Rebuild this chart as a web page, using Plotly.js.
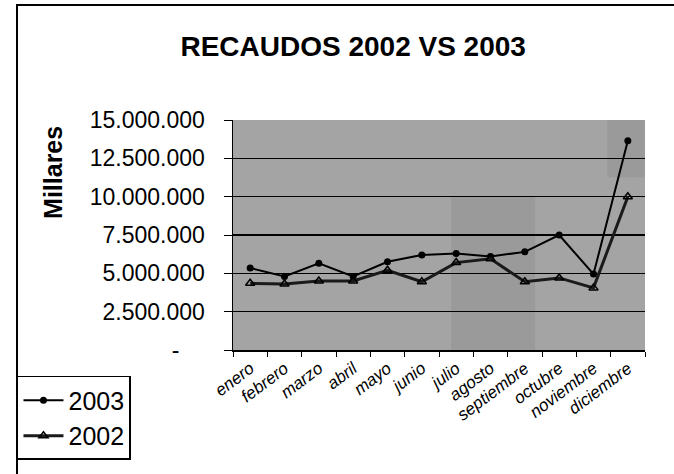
<!DOCTYPE html>
<html>
<head>
<meta charset="utf-8">
<script src="https://cdn.plot.ly/plotly-3.0.1.min.js"></script>
<style>
  html, body { margin: 0; padding: 0; background: #fff; }
  #wrap { position: relative; width: 674px; height: 474px; overflow: hidden; }
  #chart { width: 674px; height: 474px; }
  #frame { position: absolute; left: 16px; top: 4px; width: 700px; height: 500px;
           border-left: 2px solid #000; border-top: 2px solid #000; pointer-events: none; }
</style>
</head>
<body>
<div id="wrap">
  <div id="chart"></div>
  <div id="frame"></div>
</div>
<script>
const months = ['enero','febrero','marzo','abril','mayo','junio','julio','agosto','septiembre','octubre','noviembre','diciembre'];
const recaudos2003 = [5350000, 4800000, 5650000, 4800000, 5750000, 6200000, 6300000, 6100000, 6400000, 7500000, 4950000, 13650000];
const recaudos2002 = [4350000, 4300000, 4500000, 4500000, 5200000, 4450000, 5700000, 5950000, 4450000, 4700000, 4050000, 10000000];
const yTickVals = [0, 2500000, 5000000, 7500000, 10000000, 12500000, 15000000];
const yTickText = ['-\u00a0\u00a0\u00a0\u00a0', '2.500.000', '5.000.000', '7.500.000', '10.000.000', '12.500.000', '15.000.000'];

const traces = [
  {
    x: months, y: recaudos2003, name: '2003', type: 'scatter', mode: 'lines+markers',
    line: { color: '#000', width: 2 },
    marker: { symbol: 'circle', size: 7, color: '#000' }
  },
  {
    x: months, y: recaudos2002, name: '2002', type: 'scatter', mode: 'lines+markers',
    line: { color: '#1a1a1a', width: 3 },
    marker: { symbol: 'triangle-up-open', size: 8, color: '#000', line: { width: 1.5 } }
  }
];

const layout = {
  width: 674, height: 474,
  margin: { l: 233, r: 29, t: 120, b: 124 },
  paper_bgcolor: '#ffffff',
  plot_bgcolor: '#a4a4a4',
  font: { family: 'Liberation Sans, Arial, sans-serif', color: '#000' },
  title: {
    text: '<b>RECAUDOS 2002 VS 2003</b>',
    font: { family: 'Liberation Sans, Arial, sans-serif', size: 28, color: '#000' },
    x: 0.524, xanchor: 'center', y: 0.903, yanchor: 'middle'
  },
  xaxis: {
    type: 'category', categoryorder: 'array', categoryarray: months,
    range: [-0.5, 11.5],
    tickson: 'boundaries', ticks: 'outside', ticklen: 5, tickcolor: '#000',
    showline: true, linecolor: '#000', linewidth: 2,
    showgrid: false, zeroline: false,
    tickangle: -37,
    tickfont: { family: 'Liberation Sans, Arial, sans-serif', size: 17, style: 'italic', color: '#000' }
  },
  yaxis: {
    range: [0, 15000000],
    tickvals: yTickVals, ticktext: yTickText,
    ticks: 'outside', ticklen: 8, tickcolor: '#000',
    ticklabelstandoff: 14,
    showline: true, linecolor: '#000', linewidth: 1.5,
    showgrid: true, gridcolor: '#000', gridwidth: 1.5,
    zeroline: false,
    tickfont: { family: 'Liberation Sans, Arial, sans-serif', size: 23, color: '#000' }
  },
  annotations: [{
    text: '<b>Millares</b>', textangle: -90, showarrow: false,
    xref: 'paper', yref: 'paper', x: -0.437, y: 0.774, xanchor: 'center', yanchor: 'middle',
    font: { family: 'Liberation Sans, Arial, sans-serif', size: 25, color: '#000' }
  }],
  shapes: [
    { type: 'rect', layer: 'below', xref: 'x', yref: 'paper', x0: 5.85, x1: 8.3, y0: 0, y1: 0.67,
      fillcolor: 'rgba(0,0,0,0.06)', line: { width: 0 } },
    { type: 'rect', layer: 'below', xref: 'x', yref: 'paper', x0: 10.4, x1: 11.5, y0: 0.75, y1: 1,
      fillcolor: 'rgba(0,0,0,0.06)', line: { width: 0 } }
  ],
  showlegend: true,
  legend: {
    xref: 'container', yref: 'container',
    x: 0.0252, y: 0.2068, xanchor: 'left', yanchor: 'top',
    bgcolor: '#ffffff', bordercolor: '#000', borderwidth: 1.5,
    font: { family: 'Liberation Sans Narrow, Arial Narrow, sans-serif', size: 25, color: '#000' },
    itemwidth: 40
  }
};

Plotly.newPlot('chart', traces, layout, { staticPlot: true, displayModeBar: false });
</script>
</body>
</html>
